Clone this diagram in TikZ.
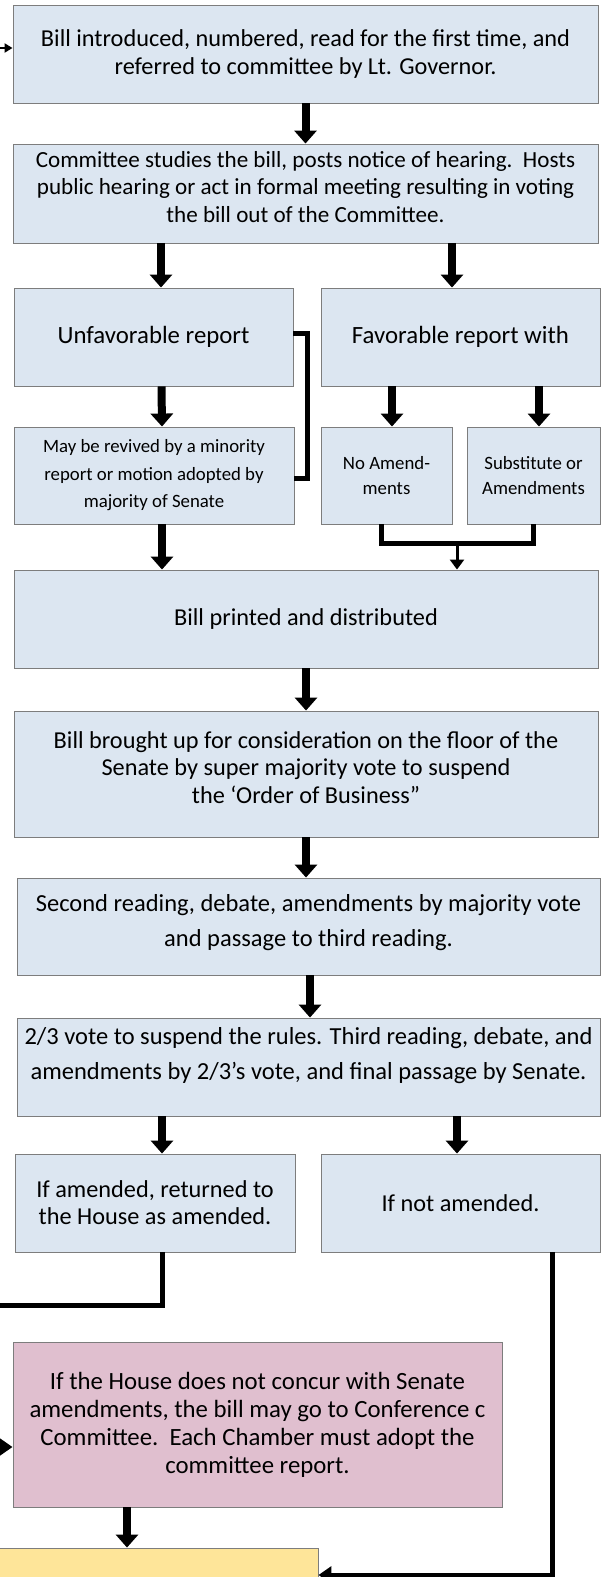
\documentclass[tikz,border=0pt]{standalone}
\usepackage{fontspec}
\setmainfont{Carlito}
\usetikzlibrary{arrows.meta}

\definecolor{boxblue}{RGB}{220,230,241}
\definecolor{boxline}{RGB}{125,125,125}
\definecolor{boxpink}{RGB}{224,191,207}
\definecolor{boxyellow}{RGB}{254,229,153}

\tikzset{
  box/.style={draw=boxline, line width=0.9pt, fill=boxblue, align=center, inner sep=2pt},
  txt/.style={font=\fontsize{24.3}{27.5}\selectfont},
  bigtxt/.style={font=\fontsize{24.8}{28}\selectfont},
  widetxt/.style={font=\fontsize{24.5}{35}\selectfont},
  smalltxt/.style={font=\fontsize{18.8}{27.5}\selectfont},
  arr/.style={line width=8pt, -{Triangle[width=22pt,length=13pt]}},
  medarr/.style={line width=5pt, -{Triangle[width=17pt,length=13pt]}},
  thinarr/.style={line width=3pt, -{Triangle[width=14pt,length=10pt]}},
  smallarr/.style={line width=2pt, -{Triangle[width=9pt,length=8pt]}},
  link/.style={line width=5pt}
}

\begin{document}
\begin{tikzpicture}[x=1pt,y=-1pt]

  \useasboundingbox (0,0) rectangle (603,1577);
  \clip (0,0) rectangle (603,1577);
  \fill[white] (0,0) rectangle (603,1577);

  % boxes
  \node[box,txt,minimum width=585pt,minimum height=98pt] (intro) at (305.5,54)
    {Bill introduced, numbered, read for the first time, and\\referred to committee by Lt. Governor.};
  \node[box,minimum width=585pt,minimum height=99pt,font=\fontsize{23.1}{27.5}\selectfont] (study) at (305.5,193.5)
    {Committee studies the bill, posts notice of hearing.\ \ Hosts\\public hearing or act in formal meeting resulting in voting\\the bill out of the Committee.\\[-14pt]\mbox{}};
  \node[box,bigtxt,minimum width=279pt,minimum height=98pt] (unfav) at (153.5,337)
    {Unfavorable report};
  \node[box,bigtxt,minimum width=279pt,minimum height=98pt] (fav) at (460.5,337)
    {Favorable report with};
  \node[box,smalltxt,minimum width=280pt,minimum height=97pt] (revive) at (154,475.5)
    {May be revived by a minority\\report or motion adopted by\\majority of Senate};
  \node[box,smalltxt,minimum width=131pt,minimum height=97pt,font=\fontsize{18.8}{25}\selectfont] (noamend) at (386.5,475.5)
    {No Amend-\\ments};
  \node[box,smalltxt,minimum width=133pt,minimum height=97pt,font=\fontsize{18.8}{25}\selectfont] (subst) at (533.5,475.5)
    {Substitute or\\Amendments};
  \node[box,txt,minimum width=584pt,minimum height=98pt] (printed) at (306,619)
    {Bill printed and distributed};
  \node[box,txt,minimum width=584pt,minimum height=126pt] (floor) at (306,774)
    {Bill brought up for consideration on the floor of the\\Senate by super majority vote to suspend\\the ‘Order of Business”\\[-14pt]\mbox{}};
  \node[box,widetxt,minimum width=583pt,minimum height=97pt] (second) at (308.5,926.5)
    {Second reading, debate, amendments by majority vote\\and passage to third reading.\\[-22pt]\mbox{}};
  \node[box,widetxt,minimum width=583pt,minimum height=98pt] (third) at (308.5,1067)
    {2/3 vote to suspend the rules. Third reading, debate, and\\amendments by 2/3’s vote, and final passage by Senate.\\[-8pt]\mbox{}};
  \node[box,txt,minimum width=280pt,minimum height=98pt,font=\fontsize{24.3}{27}\selectfont] (amended) at (155,1203)
    {If amended, returned to\\the House as amended.};
  \node[box,txt,minimum width=279pt,minimum height=98pt,font=\fontsize{24.3}{27}\selectfont] (notamended) at (460.5,1203)
    {If not amended.};
  \node[box,fill=boxpink,minimum width=489pt,minimum height=165pt,font=\fontsize{24.8}{28}\selectfont] (conference) at (257.5,1424.5)
    {If the House does not concur with Senate\\amendments, the bill may go to Conference c\\Committee.\ \ Each Chamber must adopt the\\committee report.};
  \node[box,fill=boxyellow,minimum width=338pt,minimum height=54pt] (final) at (149,1575) {};

  % free ends
  \coordinate (topin) at (-6,48);
  \coordinate (leftout) at (-6,1305);
  \coordinate (pinkin) at (-6,1447);
  \coordinate (merge) at (457,543);

  % arrows down the chart
  \draw[smallarr] (topin) -- (topin -| intro.west);
  \draw[arr] (intro.south) -- (study.north);
  \draw[arr] ([xshift=7.5pt]unfav.north |- study.south) -- ([xshift=7.5pt]unfav.north);
  \draw[arr] ([xshift=-8.5pt]fav.north |- study.south) -- ([xshift=-8.5pt]fav.north);
  \draw[arr] ([xshift=8pt]unfav.south) -- ([xshift=8pt]revive.north);
  \draw[arr] ([xshift=5.5pt]noamend.north |- fav.south) -- ([xshift=5.5pt]noamend.north);
  \draw[arr] ([xshift=5.5pt]subst.north |- fav.south) -- ([xshift=5.5pt]subst.north);
  \draw[arr] ([xshift=8pt]revive.south) -- ([xshift=8pt]revive.south |- printed.north);
  \draw[arr] (printed.south) -- (floor.north);
  \draw[arr] (floor.south) -- (floor.south |- second.north);
  \draw[arr] ([xshift=1.5pt]second.south) -- ([xshift=1.5pt]third.north);
  \draw[arr] ([xshift=7pt]amended.north |- third.south) -- ([xshift=7pt]amended.north);
  \draw[arr] ([xshift=-3.5pt]notamended.north |- third.south) -- ([xshift=-3.5pt]notamended.north);
  \draw[arr] ([xshift=-130.5pt]conference.south) -- ([xshift=-130.5pt]conference.south |- final.north);

  % brackets and side lines
  \draw[link] ([yshift=4pt]unfav.east) -- ++(14,0) |- ([yshift=-2.5pt]revive.east);
  \draw[link] ([xshift=-5.5pt]noamend.south) -- ++(0,19) -| (subst.south);
  \draw[thinarr] (merge) -- (merge |- printed.north);
  \draw[link] ([xshift=7pt]amended.south) |- (leftout);
  \draw[medarr] (pinkin) -- (pinkin -| conference.west);
  \draw[medarr] ([xshift=91.5pt]notamended.south) |- (final.east);

\end{tikzpicture}
\end{document}
